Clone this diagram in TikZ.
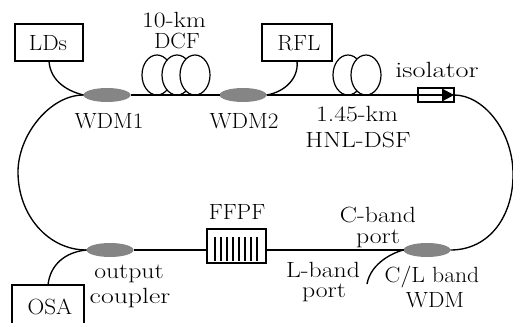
\documentclass[tikz,border=0pt]{standalone}
\usetikzlibrary{shapes.geometric}
\tikzset{
  x=1pt,y=-1pt,
  fiber/.style={line width=1.35pt,black},
  boxn/.style={draw=black,line width=1.8pt,inner sep=0,outer sep=0,anchor=north west},
  coup/.style={ellipse,fill=black!48,inner sep=0,outer sep=0,minimum width=47pt,minimum height=14pt},
  coil/.style={draw=black,fill=white,line width=1.2pt,ellipse,inner sep=0,outer sep=0,minimum width=30pt,minimum height=40pt},
  lab/.style={inner sep=0,anchor=base,font=\fontsize{22}{22}\selectfont,text=black,transform shape,xscale=1.17},
  capl/.style={lab,xscale=0.9},
}
\begin{document}
\begin{tikzpicture}
\useasboundingbox (0,0) rectangle (513,322);
% boxes
\node[boxn,minimum width=68pt,minimum height=37pt] (lds) at (15,24) {};
\node[boxn,minimum width=70pt,minimum height=37pt] (rfl) at (262,24) {};
\node[boxn,minimum width=72pt,minimum height=50pt] (osa) at (12,285) {};
\node[boxn,minimum width=59pt,minimum height=34pt] (ffpf) at (207,229) {};
\node[boxn,minimum width=36pt,minimum height=14pt] (iso) at (418,88) {};
% coils
\foreach \n/\cx in {d1/157,d2/177,d3/195,h1/348,h2/366}
  \node[coil] (\n) at (\cx,75) {};
% couplers
\node[coup] (wdma) at (107,95) {};
\node[coup] (wdmb) at (243,95) {};
\node[coup] (outc) at (110,250) {};
\node[coup] (clw) at (427,250) {};
% fibres
\draw[fiber] (wdma.east) -- (wdmb.west);
\draw[fiber] (wdmb.east) -- (iso.west);
\draw[fiber] (iso.west) -- ([xshift=-10pt]iso.east);
\draw[fiber] (iso.east) .. controls (483,95) and (512,130) .. (513,172) .. controls (514,215) and (490,250) .. (clw.east);
\draw[fiber] (wdma.west) .. controls (50,95) and (18,135) .. (18,172) .. controls (18,215) and (48,250) .. (outc.west);
\draw[fiber] (outc.east) -- (outc.east -| ffpf.west);
\draw[fiber] (clw.west -| ffpf.east) -- (clw.west);
\draw[fiber] (lds.south) .. controls (50,78) and (63,90) .. (wdma.west);
\draw[fiber] (rfl.south) .. controls (299,78) and (285,92) .. (wdmb.east);
\draw[fiber] (osa.north) .. controls (50,265) and (65,252) .. (outc.west);
\coordinate (lend) at (367,284);
\draw[fiber] (clw.west) .. controls (395,252) and (371,262) .. (lend);
% isolator arrow
\fill[black] (442,88.5) -- (454,95) -- (442,101.5) -- cycle;
% grating
\foreach \gx in {215,221,...,257}
  \draw[line width=1.3pt,black] (\gx,237) -- (\gx,261);
% labels
\node[capl] (tl) at (48,50) {LDs};
\node[lab] (t10) at (174,27) {10-km};
\node[capl] (tdcf) at (177,48) {DCF};
\node[capl] (trfl) at (299,50) {RFL};
\node[capl] (tw1) at (109,128) {WDM1};
\node[capl] (tw2) at (244,128) {WDM2};
\node[lab,xscale=1.1] (tis) at (437,77) {isolator};
\node[lab] (t145) at (357,121) {1.45-km};
\node[lab] (thnl) at (358,147) {HNL-DSF};
\node[capl] (tf) at (237,219) {FFPF};
\node[lab] (tc) at (378,222) {C-band};
\node[lab] (tcp) at (378,243) {port};
\node[lab] (tlb) at (323,277) {L-band};
\node[lab] (tlp) at (324,297) {port};
\node[lab,xscale=0.92] (tcl) at (432,282) {C/L band};
\node[capl] (twd) at (435,307) {WDM};
\node[lab] (tou) at (129,278) {output};
\node[lab,xscale=1.08] (tcu) at (130,303) {coupler};
\node[capl] (tos) at (50,314) {OSA};
\end{tikzpicture}
\end{document}
